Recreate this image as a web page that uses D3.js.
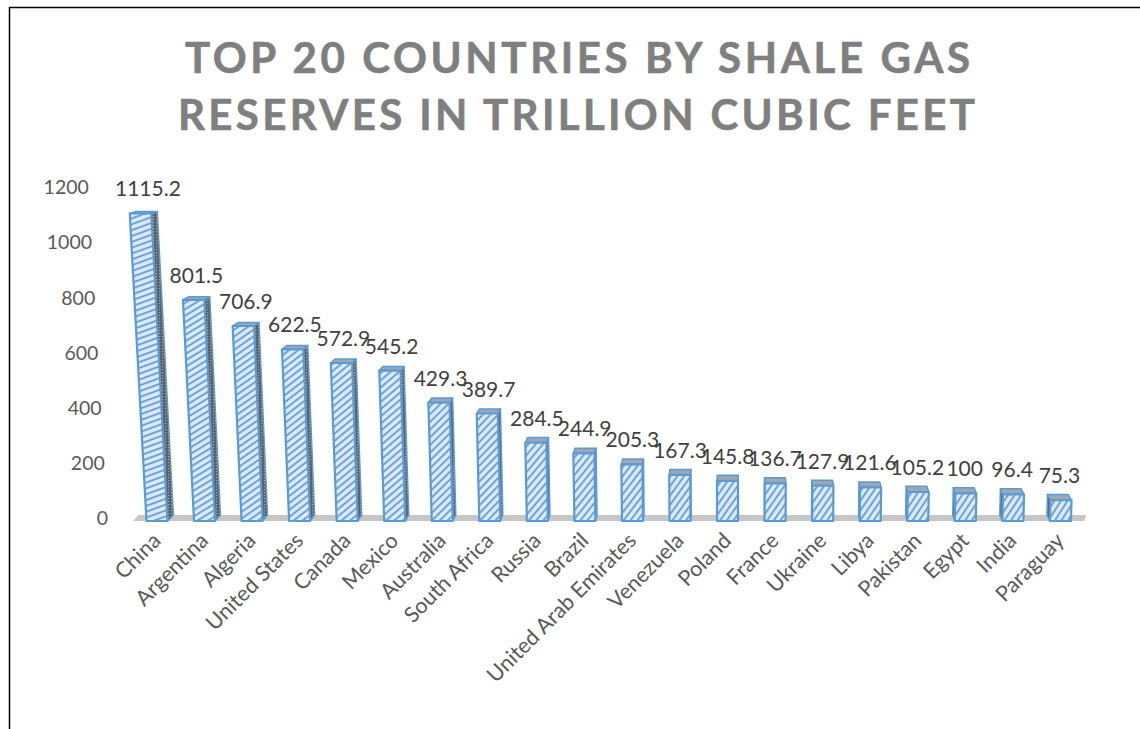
<!DOCTYPE html>
<html>
<head>
<meta charset="utf-8">
<script src="https://cdn.jsdelivr.net/npm/d3@7"></script>
<style>
  html, body { margin: 0; padding: 0; background: #fff; }
  svg { display: block; }
</style>
</head>
<body>
<svg id="chart" width="1140" height="729"></svg>
<script>
// Shale gas reserves, trillion cubic feet
const countries = ["China", "Argentina", "Algeria", "United States", "Canada", "Mexico",
  "Australia", "South Africa", "Russia", "Brazil", "United Arab Emirates", "Venezuela",
  "Poland", "France", "Ukraine", "Libya", "Pakistan", "Egypt", "India", "Paraguay"];
const reserves = [1115.2, 801.5, 706.9, 622.5, 572.9, 545.2, 429.3, 389.7, 284.5, 244.9,
  205.3, 167.3, 145.8, 136.7, 127.9, 121.6, 105.2, 100, 96.4, 75.3];
const yTickValues = [0, 200, 400, 600, 800, 1000, 1200];
const titleLines = ["TOP 20 COUNTRIES BY SHALE GAS", "RESERVES IN TRILLION CUBIC FEET"];

const svg = d3.select("#chart");
const W = 1140, H = 729;
const FONT = "Lato, 'Open Sans', sans-serif";

// frame
svg.append("path")
  .attr("d", `M9.5,${H} L9.5,7.5 L${W},7.5`)
  .attr("fill", "none").attr("stroke", "#000").attr("stroke-width", 1.5);

// title
const titleBox = [{x: 185, w: 785, y: 73}, {x: 178, w: 797, y: 130}];
svg.selectAll("text.title").data(titleLines).join("text")
  .attr("class", "title")
  .attr("x", (d, i) => titleBox[i].x)
  .attr("y", (d, i) => titleBox[i].y)
  .attr("textLength", (d, i) => titleBox[i].w)
  .attr("lengthAdjust", "spacing")
  .attr("font-family", FONT)
  .attr("font-weight", 700)
  .attr("font-size", 42)
  .attr("fill", "#7f7f7f")
  .attr("stroke", "#7f7f7f").attr("stroke-width", 0.6)
  .text(d => d);

// scales
const baseY = 521;
const x = d3.scaleBand().domain(countries).range([133.2, 1084.2]).padding(0);
const y = d3.scaleLinear().domain([0, 1200]).range([baseY, 190]);

// simple perspective: vertical edges fan out from a centre column,
// depth recedes up and toward that column
const vx = 750, lean = 9e-5, depthK = 0.0101;
function depthDy(h) { return 6 - 4 * h / 308; }
function P(px, h, depth) {
  let sx = vx + (px - vx) * (1 + lean * h);
  let sy = baseY - h;
  if (depth) {
    sx += (vx - px) * depthK;
    sy -= depthDy(h);
  }
  return [sx, sy];
}

const defs = svg.append("defs");
// dotted texture for the side faces
const dots = defs.append("pattern").attr("id", "sideDots")
  .attr("patternUnits", "userSpaceOnUse").attr("width", 3).attr("height", 3);
dots.append("rect").attr("width", 3).attr("height", 3).attr("fill", "#5f5f5f");
dots.append("rect").attr("width", 1.2).attr("height", 1.2).attr("fill", "#ababab");

// floor strip
const floorL = x.range()[0], floorR = x.range()[1];
const floorPts = [P(floorL, 0, 0), P(floorR, 0, 0), P(floorR, 0, 1), P(floorL, 0, 1)];
floorPts[2] = [floorPts[1][0] + 2, floorPts[2][1]];
floorPts[3] = [floorPts[0][0] + 5, floorPts[3][1]];
svg.append("polygon")
  .attr("points", floorPts.map(p => p.join(",")).join(" "))
  .attr("fill", "#c6c6c6");

// y axis, labels follow the leaning wall edge
const yAxis = svg.append("g").attr("class", "y-axis")
  .call(d3.axisLeft(y).tickValues(yTickValues).tickFormat(d3.format("d"))
    .tickSize(0).tickPadding(0));
yAxis.select(".domain").remove();
yAxis.selectAll(".tick").attr("transform", d => {
  const h = baseY - y(d);
  const p = P(108, h, 0);
  return `translate(${p[0]},${y(d) - 2})`;
});
yAxis.selectAll("text")
  .attr("font-family", FONT)
  .attr("font-size", 19.5)
  .attr("fill", "#595959");

// bars
const halfW = 10.5;
const bars = svg.append("g").attr("class", "bars");
countries.forEach((c, i) => {
  const v = reserves[i];
  const cx = x(c) + x.bandwidth() / 2;
  const h = baseY - y(v);
  const xl = cx - halfW, xr = cx + halfW;

  // hatch texture for this bar
  const ang = 60 - 40 * (h / 308);
  const pat = defs.append("pattern").attr("id", "hatch" + i)
    .attr("patternUnits", "userSpaceOnUse").attr("width", 10).attr("height", 5.5)
    .attr("patternTransform", `rotate(${-ang})`);
  pat.append("rect").attr("width", 10).attr("height", 5.5).attr("fill", "#dce9f7");
  pat.append("rect").attr("y", 2).attr("width", 10).attr("height", 1.8).attr("fill", "#5f9cd8");

  const g = bars.append("g");
  const fl0 = P(xl, 0, 0), fr0 = P(xr, 0, 0), flh = P(xl, h, 0), frh = P(xr, h, 0);
  const bl0 = P(xl, 0, 1), br0 = P(xr, 0, 1), blh = P(xl, h, 1), brh = P(xr, h, 1);
  const poly = pts => pts.map(p => p[0].toFixed(2) + "," + p[1].toFixed(2)).join(" ");

  // side face (toward the centre column)
  const side = cx < vx ? [fr0, frh, brh, br0] : [fl0, flh, blh, bl0];
  g.append("polygon").attr("points", poly(side))
    .attr("fill", "url(#sideDots)")
    .attr("stroke", "#5b9bd5").attr("stroke-width", 1.5).attr("stroke-linejoin", "round");
  // top face
  g.append("polygon").attr("points", poly([flh, frh, brh, blh]))
    .attr("fill", "#9fa7b0")
    .attr("stroke", "#5b9bd5").attr("stroke-width", 1.5).attr("stroke-linejoin", "round");
  // front face
  g.append("polygon").attr("points", poly([fl0, fr0, frh, flh]))
    .attr("fill", `url(#hatch${i})`)
    .attr("stroke", "#5b9bd5").attr("stroke-width", 2.2).attr("stroke-linejoin", "round");

  // value label, kept inside the plot area
  const topC = (flh[0] + frh[0]) / 2 + ((brh[0] - frh[0]) / 2);
  const lbl = g.append("text")
    .attr("y", flh[1] - 17)
    .attr("font-family", FONT)
    .attr("font-size", 21)
    .attr("fill", "#404040")
    .attr("text-anchor", "middle")
    .text(v);
  const tw = lbl.node().getComputedTextLength();
  lbl.attr("x", Math.max(topC, 115 + tw / 2));
});

// category labels
svg.append("g").attr("class", "x-labels")
  .selectAll("text").data(countries).join("text")
  .attr("transform", d => `translate(${x(d) + x.bandwidth() / 2 + 5},${542}) rotate(-45)`)
  .attr("text-anchor", "end")
  .attr("font-family", FONT)
  .attr("font-size", 21.5)
  .attr("fill", "#595959")
  .text(d => d);
</script>
</body>
</html>
